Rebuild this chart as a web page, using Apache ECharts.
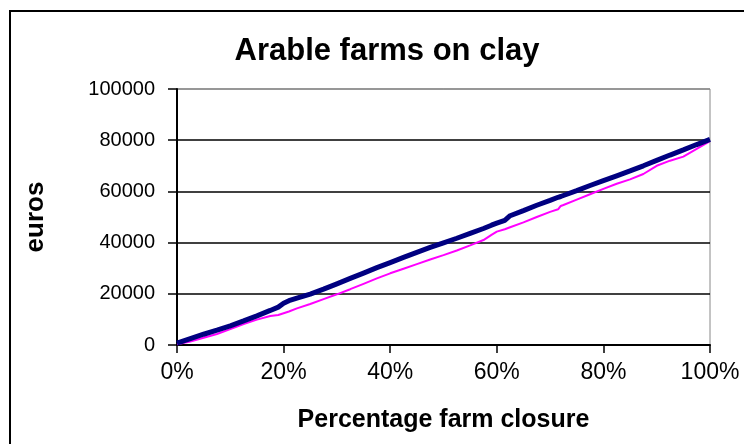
<!DOCTYPE html>
<html>
<head>
<meta charset="utf-8">
<script src="https://cdn.jsdelivr.net/npm/echarts@6/dist/echarts.min.js"></script>
<style>
  html, body { margin: 0; padding: 0; background: #fff; }
  #chart { width: 744px; height: 444px; }
</style>
</head>
<body>
<div id="chart"></div>
<script>
// Share of farms closed (fraction 0..1)
const closure = [0, 0.025, 0.05, 0.075, 0.1, 0.125, 0.15, 0.175, 0.19, 0.2, 0.21, 0.225, 0.25, 0.275,
  0.3, 0.325, 0.35, 0.375, 0.4, 0.425, 0.45, 0.475, 0.5, 0.525, 0.55, 0.575, 0.59, 0.6, 0.615, 0.625,
  0.65, 0.675, 0.7, 0.715, 0.72, 0.725, 0.75, 0.775, 0.8, 0.825, 0.85, 0.875, 0.9, 0.925, 0.95, 0.975, 1];

// Upper curve (navy), euros
const upperEuros = [700, 2500, 4200, 5800, 7500, 9400, 11400, 13500, 14800, 16300, 17300, 18300, 19900, 21800,
  23900, 26000, 28100, 30200, 32200, 34200, 36200, 38100, 39900, 41700, 43600, 45500, 46800, 47600, 48700, 50500,
  52500, 54600, 56500, 57700, 58000, 58400, 60300, 62300, 64200, 66100, 68000, 70000, 72100, 74200, 76200, 78300, 80300];

// Lower curve (magenta), euros
const lowerEuros = [300, 1400, 2800, 4300, 6200, 8200, 9900, 11300, 11700, 12400, 13100, 14300, 16000, 17900,
  19800, 21800, 23900, 26000, 28000, 29800, 31600, 33400, 35100, 36900, 38900, 41000, 43000, 44300, 45200, 46000,
  47900, 50000, 52000, 53000, 54300, 54700, 56800, 58900, 61000, 63000, 64700, 66800, 70000, 72000, 73600, 76600, 79600];

const yTicks = { min: 0, max: 100000, step: 20000 };
const xTicks = { min: 0, max: 1, step: 0.2 };

const pair = (xs, ys) => xs.map((x, i) => [x, ys[i]]);

const chart = echarts.init(document.getElementById('chart'), null, { renderer: 'canvas' });
const FONT = 'Liberation Sans, Arial, sans-serif';

chart.setOption({
  animation: false,
  backgroundColor: '#fff',
  grid: {
    left: 177, right: 34, top: 89, bottom: 99,
    show: true, borderColor: '#888', borderWidth: 1, backgroundColor: '#fff'
  },
  graphic: [
    {
      type: 'rect', silent: true, z: -1,
      shape: { x: 10, y: 11, width: 800, height: 500 },
      style: { fill: 'none', stroke: '#000', lineWidth: 2 }
    },
    {
      type: 'text', x: 387, y: 51,
      style: {
        text: 'Arable farms on clay', textAlign: 'center', textVerticalAlign: 'middle',
        font: 'bold 31px ' + FONT, fill: '#000'
      }
    }
  ],
  xAxis: {
    type: 'value', min: xTicks.min, max: xTicks.max, interval: xTicks.step,
    name: 'Percentage farm closure', nameLocation: 'middle', nameGap: 63,
    nameTextStyle: { fontFamily: FONT, fontWeight: 'bold', fontSize: 25, color: '#000' },
    axisLine: { lineStyle: { color: '#000', width: 2 } },
    axisTick: { show: true, length: 8, lineStyle: { color: '#000', width: 1.5 } },
    axisLabel: {
      margin: 16, color: '#000', fontFamily: FONT, fontSize: 23,
      formatter: v => Math.round(v * 100) + '%'
    },
    splitLine: { show: false }
  },
  yAxis: {
    type: 'value', min: yTicks.min, max: yTicks.max, interval: yTicks.step,
    name: 'euros', nameLocation: 'middle', nameGap: 128, nameRotate: 90,
    nameTextStyle: { fontFamily: FONT, fontWeight: 'bold', fontSize: 26, color: '#000' },
    axisLine: { show: true, lineStyle: { color: '#000', width: 2 } },
    axisTick: { show: true, length: 9, lineStyle: { color: '#000', width: 1.5 } },
    axisLabel: { margin: 22, color: '#000', fontFamily: FONT, fontSize: 20, formatter: v => String(v) },
    splitLine: {
      show: true,
      lineStyle: { color: ['#000', '#000', '#000', '#000', '#000', '#888'], width: 1.5 }
    }
  },
  series: [
    {
      type: 'line', data: pair(closure, lowerEuros), showSymbol: false, z: 2,
      lineStyle: { color: '#ff00ff', width: 2 }
    },
    {
      type: 'line', data: pair(closure, upperEuros), showSymbol: false, z: 3,
      lineStyle: { color: '#000080', width: 5 }
    }
  ]
});
</script>
</body>
</html>
